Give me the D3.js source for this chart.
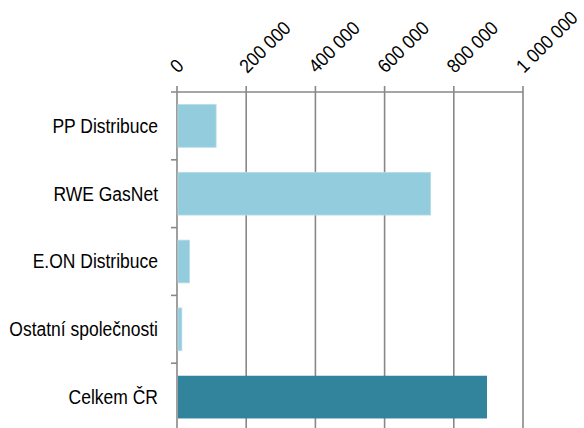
<!DOCTYPE html>
<html lang="cs">
<head>
    <meta charset="UTF-8">
    <title>Distribuce plynu</title>
    <script src="https://d3js.org/d3.v7.min.js"></script>
    <style>
        body { margin: 0; background: #fff; }
        svg { display: block; }
        text { font-family: "Liberation Sans", Arial, sans-serif; fill: #000; }
    </style>
</head>
<body>
    <svg width="584" height="428"></svg>

    <script>
    // data
    const categories = ["PP Distribuce", "RWE GasNet", "E.ON Distribuce", "Ostatní společnosti", "Celkem ČR"];
    const values = [113000, 733000, 36000, 14000, 896000];
    const tickValues = [0, 200000, 400000, 600000, 800000, 1000000];
    const colors = ["#93cddd", "#93cddd", "#93cddd", "#93cddd", "#31849b"];

    const svg = d3.select("svg");
    const plotLeft = 177, plotRight = 523, plotTop = 92, plotBottom = 431;
    const gridColor = "#888";

    const x = d3.scaleLinear().domain([0, 1000000]).range([plotLeft, plotRight]);
    const y = d3.scaleBand().domain(categories).range([plotTop, plotBottom])
        .paddingInner(0.37).paddingOuter(0.185);

    const fmt = d3.formatLocale({ decimal: ",", thousands: "\u00a0", grouping: [3], currency: ["", " Kč"] }).format(",d");

    // grid + value ticks
    svg.selectAll("line.grid")
        .data(tickValues)
        .enter().append("line")
        .attr("x1", d => x(d)).attr("x2", d => x(d))
        .attr("y1", plotTop - 6).attr("y2", plotBottom)
        .attr("stroke", gridColor).attr("stroke-width", 1.6);

    // top axis line
    svg.append("line")
        .attr("x1", plotLeft - 6).attr("x2", plotRight)
        .attr("y1", plotTop).attr("y2", plotTop)
        .attr("stroke", gridColor).attr("stroke-width", 1.6);

    // category ticks on band boundaries
    svg.selectAll("line.ctick")
        .data(categories.slice(1))
        .enter().append("line")
        .attr("x1", plotLeft - 6).attr("x2", plotLeft)
        .attr("y1", d => y(d) - y.step() * y.paddingInner() / 2)
        .attr("y2", d => y(d) - y.step() * y.paddingInner() / 2)
        .attr("stroke", gridColor).attr("stroke-width", 1.6);

    // bars
    svg.selectAll("rect.bar")
        .data(categories)
        .enter().append("rect")
        .attr("x", x(0) + 1)
        .attr("y", d => y(d))
        .attr("width", (d, i) => x(values[i]) - x(0) - 1)
        .attr("height", y.bandwidth())
        .attr("fill", (d, i) => colors[i])
        .attr("stroke", (d, i) => i < 4 ? "#b4dce8" : "none")
        .attr("stroke-width", 0.8);

    // value tick labels, rotated
    svg.selectAll("text.xlab")
        .data(tickValues)
        .enter().append("text")
        .attr("transform", d => `translate(${x(d) + 1},${plotTop - 18}) rotate(-45) scale(1,1.1)`)
        .attr("font-size", 17.5)
        .text(d => fmt(d));

    // category labels
    svg.selectAll("text.ylab")
        .data(categories)
        .enter().append("text")
        .attr("transform", d => `translate(${plotLeft - 19},${y(d) + y.bandwidth() / 2}) scale(1,1.14)`)
        .attr("dy", "0.35em")
        .attr("text-anchor", "end")
        .attr("font-size", 17.5)
        .text(d => d);
    </script>
</body>
</html>
